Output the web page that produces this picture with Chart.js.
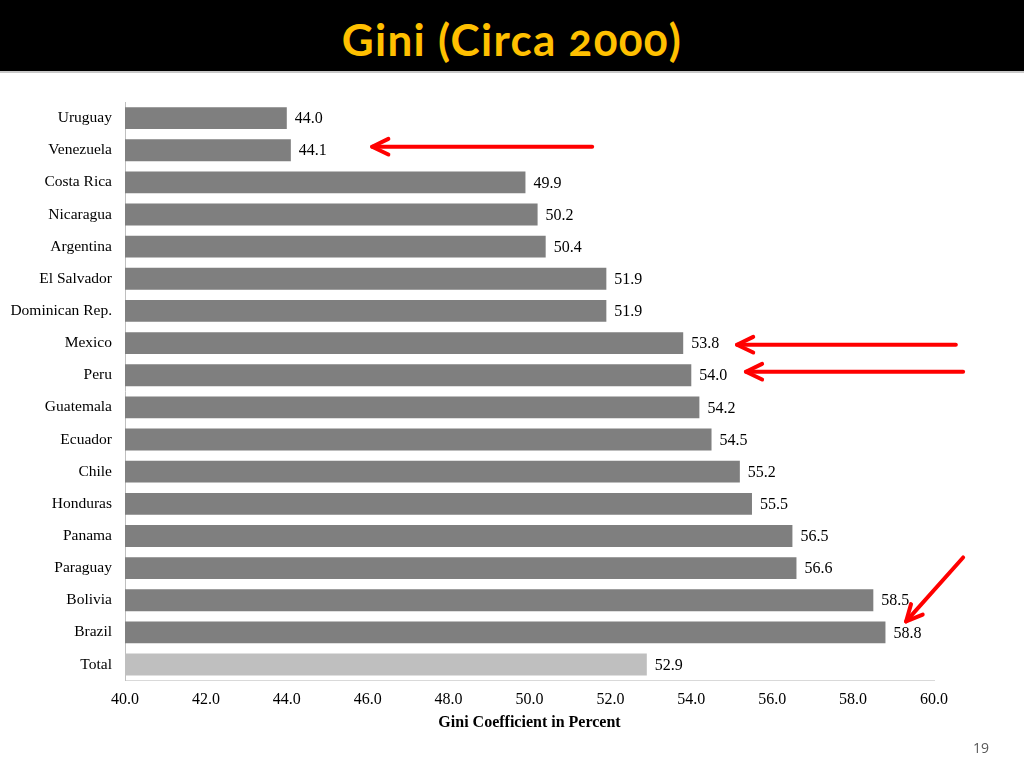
<!DOCTYPE html>
<html>
<head>
<meta charset="utf-8">
<script src="https://cdn.jsdelivr.net/npm/chart.js@4/dist/chart.umd.min.js"></script>
<style>
  html, body { margin: 0; padding: 0; width: 1024px; height: 768px; overflow: hidden; background: #fff; }
  #header { position: absolute; left: 0; top: 0; width: 1024px; height: 71px; background: #000; border-bottom: 2px solid #c8c8c8; }
  #header h1 { margin: 0; text-align: center; font-family: Lato, "Open Sans", sans-serif; font-weight: 700; font-size: 44px; letter-spacing: 1.3px; line-height: 78px; color: #FFC000; font-variant-numeric: oldstyle-nums; font-feature-settings: "onum" 1; }
  #wrap { position: absolute; left: 0; top: 73px; width: 1024px; height: 695px; }
  #pagenum { position: absolute; left: 973px; top: 738px; font-family: "Open Sans", sans-serif; font-size: 14px; color: #595959; }
</style>
</head>
<body>
<div id="header"><h1>Gini (Circa 2000)</h1></div>
<div id="wrap"><canvas id="c"></canvas></div>
<div id="pagenum">19</div>
<script>
const categories = ["Uruguay","Venezuela","Costa Rica","Nicaragua","Argentina","El Salvador","Dominican Rep.","Mexico","Peru","Guatemala","Ecuador","Chile","Honduras","Panama","Paraguay","Bolivia","Brazil","Total"];
const giniValues = [44.0,44.1,49.9,50.2,50.4,51.9,51.9,53.8,54.0,54.2,54.5,55.2,55.5,56.5,56.6,58.5,58.8,52.9];
const xTickMin = 40;
const xTickMax = 60;
const xTickStep = 2;
const xAxisTitle = "Gini Coefficient in Percent";
// annotation arrows in data space: [value, categoryIndex]
const arrowTails = [[51.55, 0.89], [60.54, 7.05], [60.72, 7.89], [60.72, 13.67]];
const arrowTips  = [[46.11, 0.89], [55.13, 7.05], [55.35, 7.89], [59.31, 15.66]];

const barColors = categories.map(c => c === "Total" ? "#BFBFBF" : "#7F7F7F");

const valueLabels = {
  id: 'valueLabels',
  afterDatasetsDraw(chart) {
    const ctx = chart.ctx;
    const meta = chart.getDatasetMeta(0);
    ctx.save();
    ctx.font = '16px "Liberation Serif", "Times New Roman", serif';
    ctx.fillStyle = '#000';
    ctx.textAlign = 'left';
    ctx.textBaseline = 'middle';
    meta.data.forEach((bar, i) => {
      ctx.fillText(giniValues[i].toFixed(1), bar.x + 8, bar.y + 1);
    });
    ctx.restore();
  }
};

const arrows = {
  id: 'arrows',
  afterDraw(chart) {
    const ctx = chart.ctx;
    const xs = chart.scales.x, ys = chart.scales.y;
    ctx.save();
    ctx.strokeStyle = '#FF0000';
    ctx.lineWidth = 4;
    ctx.lineCap = 'round';
    ctx.lineJoin = 'round';
    arrowTails.forEach((t, i) => {
      const p = arrowTips[i];
      const x1 = xs.getPixelForValue(t[0]), y1 = ys.getPixelForValue(t[1]);
      const x2 = xs.getPixelForValue(p[0]), y2 = ys.getPixelForValue(p[1]);
      const ang = Math.atan2(y2 - y1, x2 - x1);
      const hl = 18, ha = 0.45;
      ctx.beginPath();
      ctx.moveTo(x1, y1);
      ctx.lineTo(x2, y2);
      ctx.stroke();
      ctx.beginPath();
      ctx.moveTo(x2 - hl * Math.cos(ang - ha), y2 - hl * Math.sin(ang - ha));
      ctx.lineTo(x2, y2);
      ctx.lineTo(x2 - hl * Math.cos(ang + ha), y2 - hl * Math.sin(ang + ha));
      ctx.stroke();
    });
    ctx.restore();
  }
};

new Chart(document.getElementById('c'), {
  type: 'bar',
  data: {
    labels: categories,
    datasets: [{
      data: giniValues,
      backgroundColor: barColors,
      borderWidth: 0,
      barPercentage: 0.68,
      categoryPercentage: 1.0
    }]
  },
  options: {
    indexAxis: 'y',
    responsive: true,
    maintainAspectRatio: false,
    animation: false,
    layout: { padding: { top: 29, right: 90, bottom: 36, left: 0 } },
    plugins: { legend: { display: false }, tooltip: { enabled: false }, title: { display: false } },
    scales: {
      x: {
        min: xTickMin,
        max: xTickMax,
        ticks: {
          stepSize: xTickStep,
          padding: 10,
          color: '#000',
          font: { family: '"Liberation Serif", "Times New Roman", serif', size: 16 },
          callback: v => Number(v).toFixed(1)
        },
        grid: { display: false, drawTicks: false },
        border: { display: true, color: '#D9D9D9', width: 1 },
        title: {
          display: true,
          text: xAxisTitle,
          color: '#000',
          padding: { top: -7, bottom: 0 },
          font: { family: '"Liberation Serif", "Times New Roman", serif', size: 16, weight: 'bold' }
        }
      },
      y: {
        afterFit(scale) { scale.width = 125; },
        ticks: {
          padding: 13,
          color: '#000',
          font: { family: '"Liberation Serif", "Times New Roman", serif', size: 15.5 }
        },
        grid: { display: false, drawTicks: false },
        border: { display: true, color: '#BFBFBF', width: 1 }
      }
    }
  },
  plugins: [valueLabels, arrows]
});
</script>
</body>
</html>
